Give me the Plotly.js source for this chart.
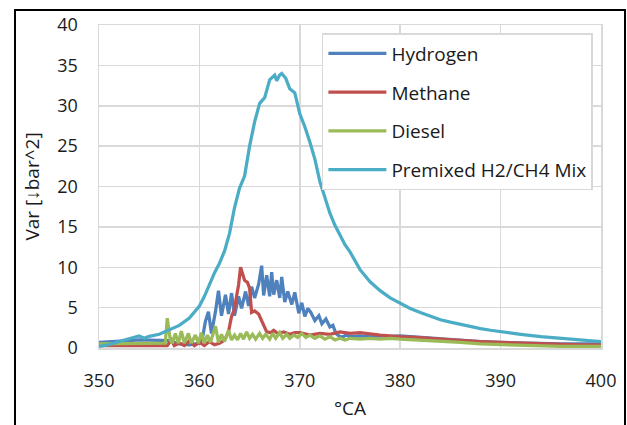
<!DOCTYPE html>
<html>
<head>
<meta charset="utf-8">
<script src="https://cdn.plot.ly/plotly-3.0.1.min.js"></script>
<style>
  html, body { margin: 0; padding: 0; background: #fff; }
  #wrap { position: relative; width: 627px; height: 425px; overflow: hidden; }
  #chart { width: 627px; height: 425px; }
  #frame { position: absolute; left: 14px; top: 9px; width: 608px; height: 450px; border: 2px solid #000; pointer-events: none; }
</style>
</head>
<body>
<div id="wrap"><div id="chart"></div><div id="frame"></div></div>
<script>
// Crank angle (°CA) and variance values
const hydrogenX = [350,351,352,353,354,355,356,357,358,359,360,360.3,360.6,360.9,361.2,361.6,361.9,362.2,362.6,362.9,363.2,363.5,363.9,364.2,364.6,364.9,365.2,365.5,365.9,366.2,366.4,366.7,367.0,367.2,367.4,367.7,368.0,368.2,368.5,368.8,369.2,369.5,369.9,370.2,370.5,370.8,371.1,371.5,371.9,372.2,372.6,373.0,373.3,373.6,373.9,374.2,374.6,375,376,377,378,379,380,382,384,386,388,390,392,394,396,398,400];
const hydrogenY = [0.7,0.8,0.8,0.9,1.0,1.0,1.0,0.9,0.5,0.4,0.6,1.2,3.3,4.5,1.8,4.5,7.1,4.0,6.6,4.2,6.8,4.0,6.4,4.9,7.0,5.2,7.6,6.2,7.9,10.2,6.5,9.0,6.4,9.4,6.6,8.4,6.2,8.8,5.7,7.0,5.4,6.9,4.3,5.6,3.9,4.9,4.4,3.4,4.0,3.0,3.6,2.6,2.8,1.8,1.5,1.3,1.6,1.4,1.5,1.4,1.5,1.4,1.5,1.3,1.2,1.0,0.8,0.7,0.6,0.6,0.5,0.5,0.5];

const methaneX = [350,352,354,356,356.8,357.2,357.5,358,358.5,359,359.5,360,360.5,361,361.5,362,362.3,362.6,362.9,363.2,363.5,363.7,363.9,364.1,364.3,364.5,364.8,365.0,365.2,365.5,365.9,366.2,366.5,366.7,367.1,367.4,367.8,368.4,369,369.5,370,371,372,373,374,375,376,377,378,380,382,384,386,388,390,392,394,396,398,400];
const methaneY = [0.3,0.3,0.3,0.3,0.3,1.0,0.3,0.6,0.3,0.9,0.3,0.7,0.3,0.8,0.4,0.6,0.8,1.2,2.0,3.9,4.8,6.4,7.8,10.0,9.0,8.4,8.1,7.4,4.4,4.6,4.2,3.4,2.6,2.0,1.9,2.2,1.8,2.0,1.7,1.9,1.9,1.6,1.8,1.7,2.0,1.8,1.9,1.7,1.6,1.4,1.3,1.1,0.9,0.8,0.7,0.6,0.5,0.5,0.4,0.4];

const dieselX = [350,352,354,356,356.6,356.8,357.1,357.3,357.6,357.9,358.2,358.5,358.9,359.2,359.6,359.9,360.2,360.5,360.8,361.1,361.6,361.9,362.2,362.5,362.9,363.2,363.5,363.8,364.1,364.4,364.7,365,365.3,365.6,366,366.3,366.6,367,367.3,367.6,368,368.3,368.7,369,369.4,369.8,370.2,370.6,371,371.5,372,372.5,373,373.5,374,374.5,375,376,377,378,379,380,382,384,386,388,390,392,394,396,398,400];
const dieselY = [0.5,0.5,0.5,0.5,0.6,3.7,1.0,0.6,1.8,0.6,2.1,0.6,1.8,0.6,1.6,0.6,1.9,0.6,1.6,0.7,2.7,0.7,1.7,0.8,2.2,1.0,1.6,1.0,1.8,1.1,2.0,1.2,1.7,1.1,1.8,1.2,1.7,1.1,1.8,1.2,1.9,1.2,1.7,1.2,1.6,1.3,1.8,1.3,1.6,1.2,1.5,1.1,1.4,1.0,1.2,1.0,1.2,1.1,1.2,1.1,1.2,1.1,1.0,0.9,0.7,0.5,0.4,0.3,0.3,0.2,0.2,0.2];

const premixX = [350,351,352,353,354,354.5,355,356,357,358,359,360,360.5,361,361.5,362,362.5,363,363.5,364,364.5,365,365.5,366,366.5,367,367.5,367.7,368,368.2,368.6,369,369.5,370,370.5,371,371.5,372,372.5,373,373.5,374,374.5,375,376,377,378,379,380,381,382,383,384,385,386,387,388,389,390,392,394,396,398,400];
const premixY = [0.2,0.4,0.8,1.1,1.5,1.2,1.45,1.7,2.2,2.8,3.7,5.2,6.4,7.9,9.3,10.5,12.0,14.2,17.4,19.8,21.3,25.0,28.0,30.3,31.0,33.2,33.8,33.1,33.8,34.0,33.4,32.1,31.6,29.0,27.4,25.5,23.4,20.6,18.6,16.7,15.2,13.9,12.8,11.9,9.7,8.2,7.1,6.2,5.5,4.9,4.4,3.9,3.5,3.2,2.9,2.6,2.4,2.2,2.0,1.7,1.4,1.2,1.0,0.8];

const seriesNames = ['Hydrogen','Methane','Diesel','Premixed H2/CH4 Mix'];
const seriesColors = ['#4F81BD','#C0504D','#9BBB59','#4BACC6'];
const xTickVals = [350,360,370,380,390,400];
const yTickVals = [0,5,10,15,20,25,30,35,40];

const xs = [hydrogenX, methaneX, dieselX, premixX];
const ys = [hydrogenY, methaneY, dieselY, premixY];

const FONT = '"Open Sans", "Noto Sans", sans-serif';
const TXT = '#1a1a1a';
const traces = seriesNames.map((n, i) => ({
  type: 'scatter', mode: 'lines', name: n, x: xs[i], y: ys[i],
  legendgroup: 'g' + i,
  line: { color: seriesColors[i], width: 3.25 }
}));

const layout = {
  width: 627, height: 425,
  margin: { l: 99, r: 26, t: 25, b: 77, pad: 0 },
  paper_bgcolor: '#fff', plot_bgcolor: '#fff',
  font: { family: FONT, size: 18, color: TXT },
  showlegend: true,
  legend: {
    x: 0.444, y: 0.975, xanchor: 'left', yanchor: 'top',
    bgcolor: '#fff', bordercolor: '#d9d9d9', borderwidth: 1.5,
    font: { family: FONT, size: 19, color: TXT },
    tracegroupgap: 11, itemwidth: 58, traceorder: 'grouped'
  },
  xaxis: {
    range: [350, 400], tickvals: xTickVals, ticktext: xTickVals.map(String),
    showgrid: true, gridcolor: '#d9d9d9', gridwidth: 1.5,
    showline: true, linecolor: '#d9d9d9', linewidth: 1.5, mirror: true,
    zeroline: false, ticks: 'outside', ticklen: 16, tickcolor: 'rgba(0,0,0,0)',
    tickfont: { family: FONT, size: 18, color: TXT },
    title: { text: '°CA', font: { family: FONT, size: 19, color: TXT }, standoff: 10 },
    automargin: false, fixedrange: true
  },
  yaxis: {
    range: [0, 40], tickvals: yTickVals, ticktext: yTickVals.map(String),
    showgrid: true, gridcolor: '#d9d9d9', gridwidth: 1.5,
    showline: true, linecolor: '#d9d9d9', linewidth: 1.5, mirror: true,
    zeroline: false, ticks: 'outside', ticklen: 16, tickcolor: 'rgba(0,0,0,0)',
    tickfont: { family: FONT, size: 18, color: TXT },
    title: { text: 'Var [↓bar^2]', font: { family: FONT, size: 19, color: TXT }, standoff: 12 },
    automargin: false, fixedrange: true
  }
};

Plotly.newPlot('chart', traces, layout, { displayModeBar: false, staticPlot: true });
</script>
</body>
</html>
